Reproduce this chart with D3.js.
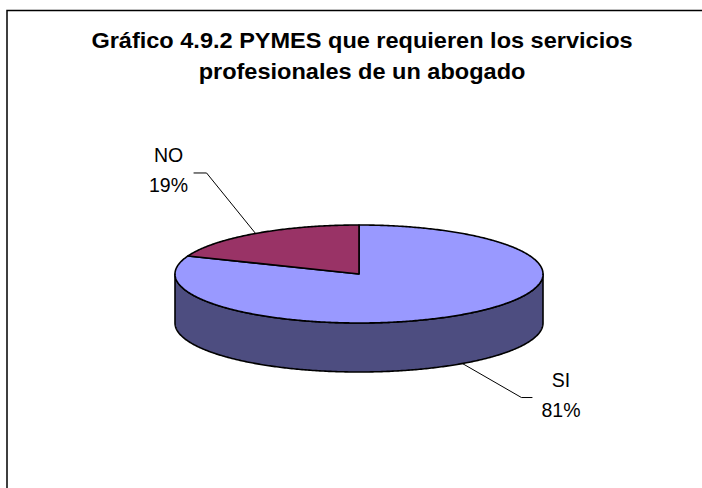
<!DOCTYPE html>
<html>
<head>
<meta charset="utf-8">
<script src="https://cdn.jsdelivr.net/npm/d3@7"></script>
<style>
  html, body { margin: 0; padding: 0; background: #fff; }
  svg { display: block; }
</style>
</head>
<body>
<svg id="chart" width="702" height="488"></svg>
<script>
// ---- data ----
const titleLines = ["Gráfico 4.9.2 PYMES que requieren los servicios", "profesionales de un abogado"];
const categories = ["SI", "NO"];
const values = [81, 19];
const percentLabels = ["81%", "19%"];
const topColors = ["#9999FF", "#993366"];
const sideColors = ["#4D4D80", "#4D1A33"];

// ---- layout ----
const W = 702, H = 488;
const cx = 359, cy = 274, rx = 184, ry = 49, depth = 49;

const svg = d3.select("#chart");
svg.append("rect").attr("width", W).attr("height", H).attr("fill", "#fff");
svg.append("rect")
  .attr("x", 7).attr("y", 10.5).attr("width", W + 20).attr("height", H + 20)
  .attr("fill", "none").attr("stroke", "#000").attr("stroke-width", 1.5);

// title
const title = svg.append("g").attr("transform", "translate(362,0) scale(1.07,1)");
titleLines.forEach((t, i) => {
  title.append("text")
    .attr("x", 0).attr("y", 48 + i * 30.6)
    .attr("text-anchor", "middle")
    .attr("font-family", "'Liberation Sans', Arial, sans-serif")
    .attr("font-weight", "bold")
    .attr("font-size", 22)
    .attr("fill", "#000")
    .text(t);
});

// pie angles (clockwise from 12 o'clock)
const pie = d3.pie().sort(null).startAngle(0).endAngle(2 * Math.PI);
const arcs = pie(values);

const px = a => cx + rx * Math.sin(a);
const py = (a, dz = 0) => cy - ry * Math.cos(a) + dz;

function ellipsePts(a0, a1, dz = 0) {
  const n = Math.max(2, Math.ceil(Math.abs(a1 - a0) / 0.01));
  const pts = [];
  for (let i = 0; i <= n; i++) {
    const a = a0 + (a1 - a0) * i / n;
    pts.push([px(a), py(a, dz)]);
  }
  return pts;
}
const line = d3.line();

const g = svg.append("g");

// side walls: visible front half (angles PI/2 .. 3PI/2)
arcs.forEach((d, i) => {
  const a0 = Math.max(d.startAngle, Math.PI / 2);
  const a1 = Math.min(d.endAngle, 3 * Math.PI / 2);
  if (a1 <= a0) return;
  const topPts = ellipsePts(a0, a1, 0);
  const botPts = ellipsePts(a1, a0, depth);
  g.append("path")
    .attr("d", line(topPts.concat(botPts)) + "Z")
    .attr("fill", sideColors[i])
    .attr("stroke", "#000").attr("stroke-width", 1.6).attr("stroke-linejoin", "round");
});

// tops
arcs.forEach((d, i) => {
  const pts = [[cx, cy]].concat(ellipsePts(d.startAngle, d.endAngle, 0));
  g.append("path")
    .attr("d", line(pts) + "Z")
    .attr("fill", topColors[i])
    .attr("stroke", "#000").attr("stroke-width", 1.6).attr("stroke-linejoin", "round");
});

// labels with leader lines
const labelFont = "'Liberation Sans', Arial, sans-serif";
arcs.forEach((d, i) => {
  const mid = (d.startAngle + d.endAngle) / 2;
  const front = Math.cos(mid) < 0; // lower half -> anchor at bottom of side wall
  const ax = px(mid), ay = py(mid, front ? depth : 0);
  let elbow, end, tx, ty;
  if (front) {
    elbow = [ax + 59, ay + 34];
    end = [elbow[0] + 11, elbow[1]];
    tx = 561; ty = elbow[1] - 11;
  } else {
    elbow = [ax - 49, ay - 60.5];
    end = [elbow[0] - 13, elbow[1]];
    tx = 168.5; ty = elbow[1] - 11;
  }
  svg.append("path")
    .attr("d", line([[ax, ay], elbow, end]))
    .attr("fill", "none").attr("stroke", "#000").attr("stroke-width", 1);
  const t = svg.append("text")
    .attr("text-anchor", "middle")
    .attr("font-family", labelFont)
    .attr("font-size", 19.5)
    .attr("fill", "#000");
  t.append("tspan").attr("x", tx).attr("y", ty).text(categories[i]);
  t.append("tspan").attr("x", tx).attr("y", ty + 30.5).text(percentLabels[i]);
});
</script>
</body>
</html>
